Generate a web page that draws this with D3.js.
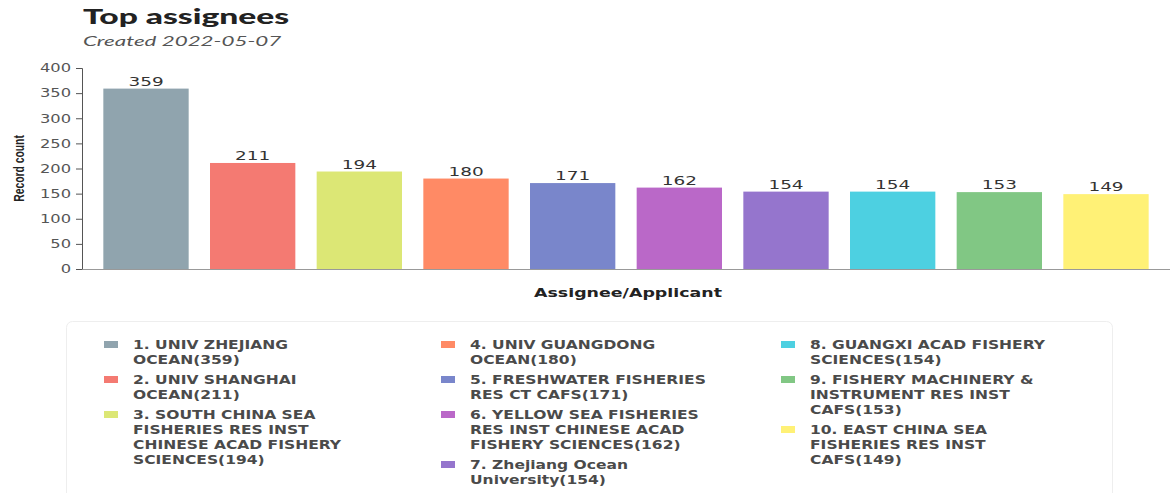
<!DOCTYPE html>
<html><head><meta charset="utf-8">
<script src="https://cdn.jsdelivr.net/npm/d3@7"></script>
<style>
body{margin:0;background:#fff;}
svg{display:block;}
</style></head>
<body><svg id="c" width="1170" height="493"></svg>
<script>
const categories = ["UNIV ZHEJIANG OCEAN","UNIV SHANGHAI OCEAN","SOUTH CHINA SEA FISHERIES RES INST CHINESE ACAD FISHERY SCIENCES","UNIV GUANGDONG OCEAN","FRESHWATER FISHERIES RES CT CAFS","YELLOW SEA FISHERIES RES INST CHINESE ACAD FISHERY SCIENCES","Zhejiang Ocean University","GUANGXI ACAD FISHERY SCIENCES","FISHERY MACHINERY & INSTRUMENT RES INST CAFS","EAST CHINA SEA FISHERIES RES INST CAFS"];
const values = [359,211,194,180,171,162,154,154,153,149];
const colors = ["#90A4AE","#F47A72","#DCE775","#FF8A65","#7986CB","#BA68C8","#9575CD","#4DD0E1","#81C784","#FFF176"];
const yTicks = [0,50,100,150,200,250,300,350,400];
const title = "Top assignees";
const subtitle = "Created 2022-05-07";
const xLabel = "Assignee/Applicant";
const yLabel = "Record count";

const svg = d3.select("#c");
const m = {l:82, r:1170, t:68, b:269};
const x = d3.scaleBand().domain(d3.range(categories.length)).range([m.l, m.r]).paddingInner(0.2).paddingOuter(0.2);
const y = d3.scaleLinear().domain([0,400]).range([m.b, m.t]);

function place(t, px, py, f){ t.attr("x",0).attr("y",0).attr("transform",`translate(${px},${py}) scale(${f},1)`); return t; }

place(svg.append("text").attr("font-family","Lato").attr("font-weight",900)
  .attr("font-size",20).attr("fill","#222").text(title), 83, 24, 1.68);
place(svg.append("text").attr("font-family","Lato").attr("font-style","italic")
  .attr("font-size",14).attr("fill","#555").text(subtitle), 83, 46, 1.6);

const ya = svg.append("g").attr("transform",`translate(${m.l},0)`)
  .call(d3.axisLeft(y).tickValues(yTicks).tickSize(6).tickPadding(4));
ya.select(".domain").attr("stroke","#555");
ya.selectAll(".tick line").attr("stroke","#555");
ya.selectAll(".tick text").attr("font-family","DejaVu Sans").attr("font-size",12).attr("fill","#555")
  .attr("x",-11/1.36).attr("transform","scale(1.36,1)");

const xa = svg.append("g").attr("transform",`translate(0,${m.b})`)
  .call(d3.axisBottom(x).tickSize(0).tickFormat(""));
xa.select(".domain").attr("stroke","#999");

svg.append("text").attr("transform",`translate(24,${(m.t+m.b)/2}) rotate(-90) scale(0.74,1)`).attr("text-anchor","middle")
  .attr("font-family","Liberation Sans").attr("font-weight","bold").attr("font-size",14).attr("fill","#222").text(yLabel);
place(svg.append("text").attr("text-anchor","middle")
  .attr("font-family","DejaVu Sans").attr("font-weight","bold").attr("font-size",12).attr("fill","#222").text(xLabel),
  (m.l+m.r)/2 + 2, 297, 1.45);

svg.selectAll("rect.bar").data(values).join("rect").attr("class","bar")
  .attr("x",(d,i)=>x(i)).attr("width",x.bandwidth()).attr("y",d=>y(d)).attr("height",d=>y(0)-y(d))
  .attr("fill",(d,i)=>colors[i]);
svg.selectAll("text.val").data(values).join("text").attr("class","val")
  .attr("text-anchor","middle").attr("font-family","DejaVu Sans").attr("font-size",13).attr("fill","#333").text(d=>d)
  .each(function(d,i){ place(d3.select(this), x(i)+x.bandwidth()/2, y(d)-3, 1.42); });

// legend
svg.append("rect").attr("x",66.5).attr("y",321.5).attr("width",1046).attr("height",190).attr("rx",6)
  .attr("fill","#fff").attr("stroke","#eee");
function wrap(s, n){const w=s.split(" ");const lines=[];let cur="";
  w.forEach(t=>{const c=cur?cur+" "+t:t; if(c.length>n && cur){lines.push(cur);cur=t;} else cur=c;});
  if(cur)lines.push(cur);return lines;}
const colX = [104,441,781];
const colOf = i => i<3?0:(i<7?1:2);
const colY = [345,345,345];
const lh = 15;
categories.forEach((c,i)=>{
  const col = colOf(i);
  const lines = wrap(`${i+1}. ${c}(${values[i]})`, 23);
  const y0 = colY[col];
  svg.append("rect").attr("x",colX[col]).attr("y",y0-4).attr("width",14).attr("height",7).attr("fill",colors[i]);
  const t = svg.append("text").attr("font-family","DejaVu Sans")
    .attr("font-weight","bold").attr("font-size",11.5).attr("fill","#4a4a4a");
  place(t, colX[col]+29, y0+4, 1.35);
  lines.forEach((l,k)=>t.append("tspan").attr("x",0).attr("dy",k?lh:0).text(l));
  colY[col] += lines.length*lh + 5;
});
</script></body></html>
